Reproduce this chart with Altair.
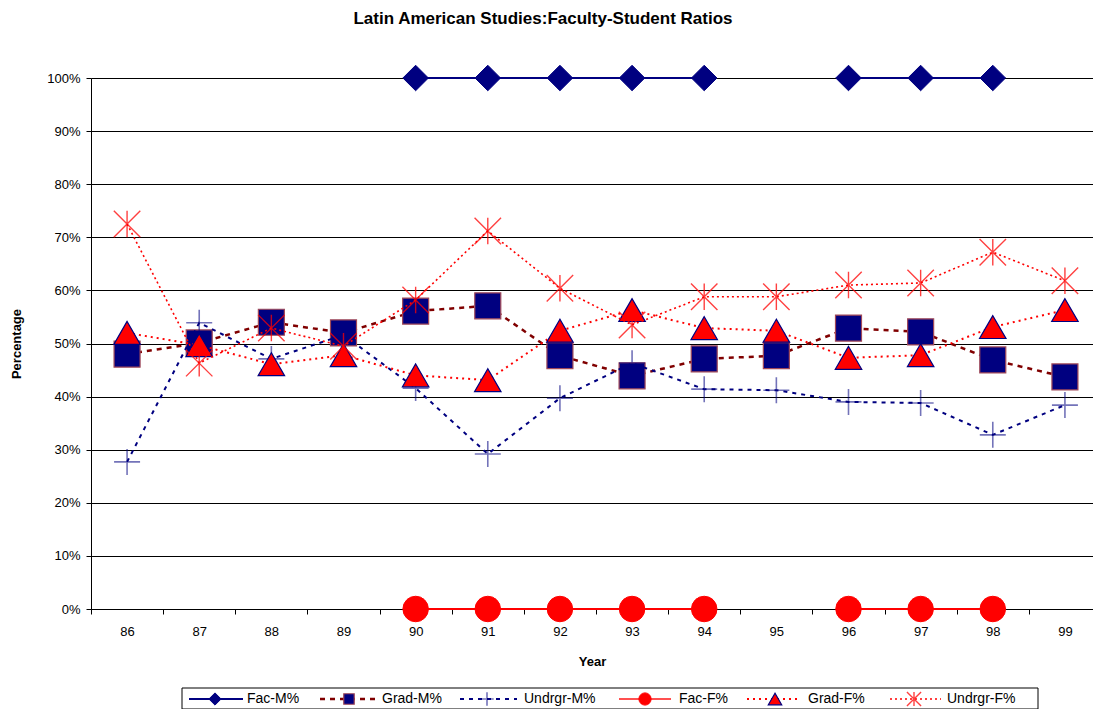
import altair as alt
import pandas as pd

years = ["86", "87", "88", "89", "90", "91", "92", "93", "94", "95", "96", "97", "98", "99"]
series_names = ["Fac-M%", "Grad-M%", "Undrgr-M%", "Fac-F%", "Grad-F%", "Undrgr-F%"]
fac_m = [None, None, None, None, 100, 100, 100, 100, 100, None, 100, 100, 100, None]
grad_m = [48.0, 50.1, 54.0, 52.0, 56.1, 57.1, 47.7, 43.9, 47.1, 47.7, 52.9, 52.2, 46.9, 43.7]
undrgr_m = [27.7, 53.9, 47.1, 51.6, 41.6, 29.2, 39.7, 46.3, 41.4, 41.2, 39.0, 38.8, 32.8, 38.4]
fac_f = [None, None, None, None, 0, 0, 0, 0, 0, None, 0, 0, 0, None]
grad_f = [52.0, 49.7, 46.1, 47.8, 44.0, 43.1, 52.4, 56.3, 52.9, 52.4, 47.3, 47.8, 53.1, 56.3]
undrgr_f = [72.5, 46.3, 52.9, 49.5, 58.2, 71.2, 60.4, 53.5, 58.8, 58.8, 61.0, 61.4, 67.2, 61.8]
y_ticks = [0, 10, 20, 30, 40, 50, 60, 70, 80, 90, 100]

all_values = [fac_m, grad_m, undrgr_m, fac_f, grad_f, undrgr_f]

FONT = "Liberation Sans"
NAVY = "#000080"
MAROON = "#800000"
RED = "#FF0000"

PLUS = "M-1,0H1M0,-1V1"
STAR = "M-1,-1L1,1M-1,1L1,-1M0,-1V1"

styles = [
    dict(line=dict(color=NAVY, strokeWidth=2),
         pt=dict(shape="diamond", filled=True, fill=NAVY, stroke=NAVY, size=650, strokeWidth=1),
         lpt=dict(size=150)),
    dict(line=dict(color=MAROON, strokeWidth=2.5, strokeDash=[5, 5]),
         pt=dict(shape="square", filled=True, fill=NAVY, stroke="#a04858", size=676, strokeWidth=1.2),
         lpt=dict(size=110)),
    dict(line=dict(color=NAVY, strokeWidth=2, strokeDash=[4, 5]),
         pt=dict(shape=PLUS, filled=False, stroke=NAVY, strokeOpacity=0.55, size=676, strokeWidth=1.6),
         lpt=dict(size=180)),
    dict(line=dict(color=RED, strokeWidth=2),
         pt=dict(shape="circle", filled=True, fill=RED, stroke=RED, size=650, strokeWidth=1),
         lpt=dict(size=150)),
    dict(line=dict(color=RED, strokeWidth=2, strokeDash=[2, 4]),
         pt=dict(shape="triangle-up", filled=True, fill=RED, stroke=NAVY, size=700, strokeWidth=1.2),
         lpt=dict(size=180)),
    dict(line=dict(color=RED, strokeWidth=1.6, strokeDash=[2, 3]),
         pt=dict(shape=STAR, filled=False, stroke=RED, strokeOpacity=0.75, size=700, strokeWidth=1.4),
         lpt=dict(size=200)),
]

PLOT_LEFT = 91
PLOT_TOP = 78
W, H = 1002, 531
X_RANGE = 1010

xscale = alt.Scale(domain=years, range=[0, X_RANGE], paddingInner=0, paddingOuter=0)
yscale = alt.Scale(domain=[0, 100], nice=False, zero=True)
xaxis = alt.Axis(title="Year", labelAngle=0, tickBand="extent", grid=False, ticks=True,
                 tickSize=5, tickColor="black", domainColor="black", labelFont=FONT,
                 labelFontSize=13, labelColor="black", labelPadding=11,
                 titleFont=FONT, titleFontSize=13, titleFontWeight="bold", titleColor="black",
                 titlePadding=17, titleX=505 - 4)
yaxis = alt.Axis(title="Percentage", values=y_ticks, labelExpr="datum.value + '%'",
                 grid=True, gridColor="black", gridWidth=1, tickSize=5, tickColor="black",
                 domainColor="black", labelFont=FONT, labelFontSize=13, labelColor="black",
                 labelPadding=6, titleFont=FONT, titleFontSize=13, titleFontWeight="bold",
                 titleColor="black", titlePadding=23)


def series_frame(vals):
    rows = []
    seg = 0
    for yr, v in zip(years, vals):
        if v is None:
            seg += 1
            continue
        rows.append({"year": yr, "value": v, "seg": seg})
    return pd.DataFrame(rows)


layers = []
for idx, (name, vals, st) in enumerate(zip(series_names, all_values, styles)):
    df = series_frame(vals)
    enc = dict(
        x=alt.X("year:O", scale=xscale, axis=xaxis, sort=years),
        y=alt.Y("value:Q", scale=yscale, axis=yaxis),
    )
    layers.append(alt.Chart(df).mark_line(**st["line"]).encode(detail="seg:N", **enc))
    layers.append(alt.Chart(df).mark_point(opacity=1, **st["pt"]).encode(**enc))

# legend (drawn below the plot area)
ly = 699 - PLOT_TOP
legend_layout = [  # line start, line end, marker x, text x (page coords)
    (189, 243, 215, 247),
    (320, 377, 349, 382),
    (460, 517, 487, 524),
    (619, 671, 645, 679),
    (747, 799, 775, 808),
    (890, 941, 914, 947),
]
one = pd.DataFrame({"k": [0]})
layers.append(
    alt.Chart(one).mark_rect(fill="white", stroke="black", strokeWidth=1).encode(
        x=alt.value(182 - PLOT_LEFT), x2=alt.value(1038 - PLOT_LEFT),
        y=alt.value(688 - PLOT_TOP), y2=alt.value(709 - PLOT_TOP))
)
for name, st, (x0, x1, xm, xt) in zip(series_names, styles, legend_layout):
    lst = dict(st["line"])
    if name == "Fac-F%":
        lst["color"] = "#ff5050"
    layers.append(
        alt.Chart(one).mark_rule(**lst).encode(
            x=alt.value(x0 - PLOT_LEFT), x2=alt.value(x1 - PLOT_LEFT), y=alt.value(ly))
    )
    pt = dict(st["pt"])
    pt["size"] = st["lpt"]["size"]
    layers.append(
        alt.Chart(one).mark_point(opacity=1, **pt).encode(
            x=alt.value(xm - PLOT_LEFT), y=alt.value(ly))
    )
    layers.append(
        alt.Chart(one).mark_text(text=name, align="left", baseline="middle", font=FONT,
                                 fontSize=14, color="black").encode(
            x=alt.value(xt - PLOT_LEFT), y=alt.value(ly))
    )

chart = alt.layer(*layers).properties(
    width=W, height=H,
    autosize=alt.AutoSizeParams(type="none"),
    padding={"left": PLOT_LEFT - 8, "top": PLOT_TOP - 8, "right": 0, "bottom": 100},
    title=alt.Title("Latin American Studies:Faculty-Student Ratios", font=FONT, fontSize=17,
                    fontWeight="bold", color="black", anchor="middle", frame="group",
                    dx=-49, offset=35),
).configure_view(strokeWidth=0).configure(background="white")

chart.save("out.html", embed_options={"renderer": "svg", "actions": False})
